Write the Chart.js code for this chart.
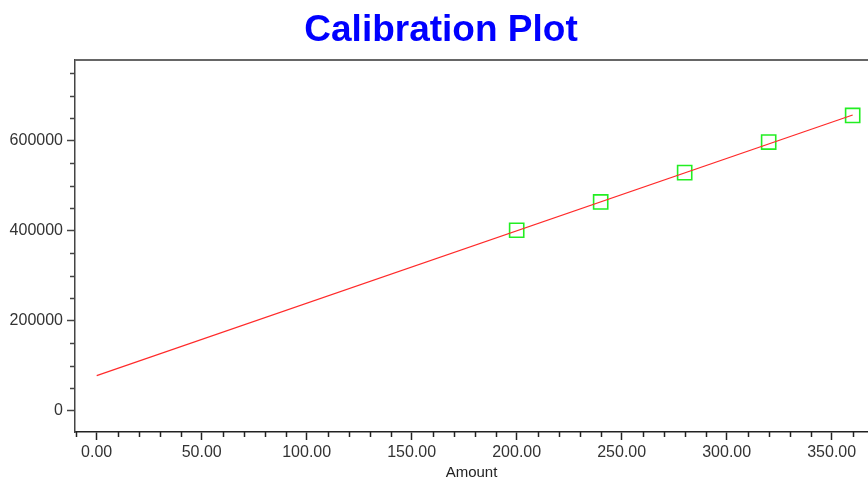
<!DOCTYPE html>
<html>
<head>
<meta charset="utf-8">
<script src="https://cdn.jsdelivr.net/npm/chart.js@4.4.1/dist/chart.umd.min.js"></script>
<style>
  html, body { margin: 0; padding: 0; background: #ffffff; }
  #wrap { width: 868px; height: 479px; position: relative; overflow: hidden; }
</style>
</head>
<body>
<div id="wrap"><canvas id="c"></canvas></div>
<script>
// Calibration standards: amount vs. response
const amounts   = [200, 240, 280, 320, 360];
const responses = [401000, 464000, 529000, 597000, 656000];

// Fitted calibration line, drawn between its two end points
const fitAmounts   = [0, 360];
const fitResponses = [78000, 657000];

// Axis ranges and tick values (the plot runs to the right edge)
const xRange = [-10.33, 367.3];
const yRange = [-47300, 779300];
const xTickValues = [0, 50, 100, 150, 200, 250, 300, 350];
const yTickValues = [0, 200000, 400000, 600000];
const xMinorStep = 10;
const yMinorStep = 50000;

const standards = amounts.map((a, i) => ({ x: a, y: responses[i] }));
const fitLine = fitAmounts.map((a, i) => ({ x: a, y: fitResponses[i] }));

function useTicks(values) {
  return scale => { scale.ticks = values.map(v => ({ value: v })); };
}

// Short minor tick marks plus the top frame line
const frame = {
  id: 'frame',
  afterDraw(chart) {
    const { ctx, chartArea } = chart;
    const xs = chart.scales.x, ys = chart.scales.y;
    ctx.save();
    ctx.strokeStyle = '#666666';
    ctx.lineWidth = 2;
    ctx.beginPath();
    ctx.moveTo(chartArea.left, chartArea.top);
    ctx.lineTo(chartArea.right, chartArea.top);
    ctx.stroke();

    ctx.lineWidth = 1.5;
    ctx.strokeStyle = '#444444';
    for (let v = Math.ceil(yRange[0] / yMinorStep) * yMinorStep; v <= yRange[1]; v += yMinorStep) {
      if (yTickValues.includes(v)) continue;
      const py = Math.round(ys.getPixelForValue(v)) + 0.5;
      ctx.beginPath();
      ctx.moveTo(chartArea.left - 5, py);
      ctx.lineTo(chartArea.left, py);
      ctx.stroke();
    }

    ctx.strokeStyle = '#222222';
    for (let v = Math.ceil(xRange[0] / xMinorStep) * xMinorStep; v <= xRange[1]; v += xMinorStep) {
      if (xTickValues.includes(v)) continue;
      const px = Math.round(xs.getPixelForValue(v)) + 0.5;
      ctx.beginPath();
      ctx.moveTo(px, chartArea.bottom);
      ctx.lineTo(px, chartArea.bottom + 5);
      ctx.stroke();
    }
    ctx.restore();
  }
};

new Chart(document.getElementById('c'), {
  type: 'scatter',
  data: {
    datasets: [
      {
        label: 'Fit',
        data: fitLine,
        showLine: true,
        borderColor: '#ff2a2a',
        borderWidth: 1.2,
        pointRadius: 0,
        fill: false
      },
      {
        label: 'Standards',
        data: standards,
        pointStyle: 'rect',
        pointRadius: 10,
        pointHoverRadius: 10,
        pointBorderColor: '#22ee22',
        pointBorderWidth: 1.6,
        pointBackgroundColor: 'rgba(0,0,0,0)',
        showLine: false
      }
    ]
  },
  options: {
    responsive: true,
    maintainAspectRatio: false,
    animation: false,
    layout: { autoPadding: false, padding: { left: 0, right: -14, top: 0, bottom: 0 } },
    plugins: {
      legend: { display: false },
      tooltip: { enabled: false },
      title: {
        display: true,
        text: 'Calibration Plot',
        color: '#0000ff',
        font: { family: 'Liberation Sans, Arial, sans-serif', size: 37, weight: 'bold' },
        padding: { top: 9, bottom: 6.6 }
      }
    },
    scales: {
      x: {
        type: 'linear',
        min: xRange[0],
        max: xRange[1],
        afterBuildTicks: useTicks(xTickValues),
        ticks: {
          color: '#333333',
          padding: 3,
          font: { family: 'Liberation Sans, Arial, sans-serif', size: 16 },
          callback: v => Number(v).toFixed(2),
          maxRotation: 0,
          autoSkip: false
        },
        grid: { drawOnChartArea: false, drawTicks: true, tickLength: 8, tickColor: '#222222', tickWidth: 1.5 },
        border: { display: true, color: '#222222', width: 1.5 },
        title: {
          display: true,
          text: 'Amount',
          color: '#222222',
          font: { family: 'Liberation Sans, Arial, sans-serif', size: 15, lineHeight: 0.8 },
          padding: { top: 1.8, bottom: 0 }
        }
      },
      y: {
        type: 'linear',
        min: yRange[0],
        max: yRange[1],
        afterBuildTicks: useTicks(yTickValues),
        afterFit: s => { s.width = 75; },
        ticks: {
          color: '#333333',
          padding: 4,
          font: { family: 'Liberation Sans, Arial, sans-serif', size: 16 },
          callback: v => String(v)
        },
        grid: { drawOnChartArea: false, drawTicks: true, tickLength: 8, tickColor: '#444444', tickWidth: 1.5 },
        border: { display: true, color: '#444444', width: 1.5 }
      }
    }
  },
  plugins: [frame]
});
</script>
</body>
</html>
